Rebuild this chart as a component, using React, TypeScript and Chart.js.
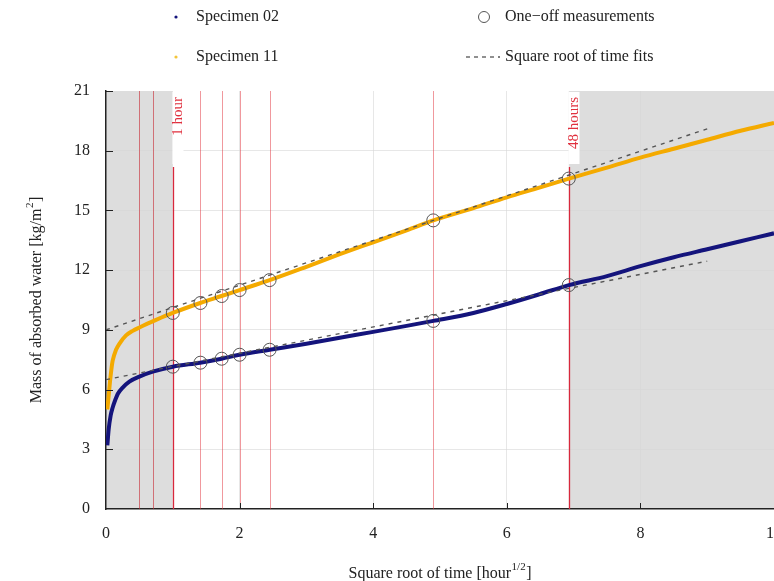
import React, { useEffect, useRef } from "react";
import { Chart, registerables } from "chart.js";

Chart.register(...registerables);

// ---- Data ----
const sqrtTime02 = [0.02, 0.04, 0.07, 0.1, 0.13, 0.18, 0.25, 0.35, 0.5, 0.7, 1.0, 1.41, 1.73, 2.0, 2.45, 3.0, 3.5, 4.0, 4.5, 4.9, 5.5, 6.0, 6.5, 6.93, 7.5, 8.0, 8.5, 9.0, 9.5, 10.0];
const mass02 = [3.2, 4.0, 4.7, 5.1, 5.4, 5.8, 6.1, 6.4, 6.65, 6.9, 7.15, 7.35, 7.55, 7.75, 8.0, 8.3, 8.6, 8.9, 9.2, 9.45, 9.85, 10.3, 10.8, 11.25, 11.7, 12.2, 12.65, 13.05, 13.45, 13.85];

const sqrtTime11 = [0.02, 0.04, 0.06, 0.08, 0.1, 0.15, 0.2, 0.3, 0.4, 0.5, 0.75, 1.0, 1.41, 1.73, 2.0, 2.45, 3.0, 3.5, 4.0, 4.5, 4.9, 5.5, 6.0, 6.5, 6.93, 7.5, 8.0, 8.5, 9.0, 9.5, 10.0];
const mass11 = [5.0, 5.7, 6.4, 7.0, 7.45, 8.0, 8.3, 8.72, 8.95, 9.12, 9.5, 9.85, 10.35, 10.7, 11.0, 11.5, 12.17, 12.8, 13.4, 14.0, 14.5, 15.12, 15.66, 16.16, 16.6, 17.15, 17.65, 18.1, 18.55, 19.0, 19.4];

const oneOffTimes = [1.0, 1.414, 1.732, 2.0, 2.449, 4.899, 6.928];
const oneOff02 = [7.15, 7.35, 7.55, 7.75, 8.0, 9.45, 11.25];
const oneOff11 = [9.85, 10.35, 10.7, 11.0, 11.5, 14.5, 16.6];

const fitTimes = [0, 9.0];
const fit02 = [6.5, 12.45];
const fit11 = [9.0, 19.1];

const markerTimes = [0.5, 0.707, 1.0, 1.414, 1.732, 2.0, 2.449, 4.899, 6.928];
const labelledTimes = [1.0, 6.928];
const labelledTexts = ["1 hour", "48 hours"];
const shadedStarts = [0, 6.928];
const shadedEnds = [1.0, 10];

const xMin = 0, xMax = 10, xStep = 2;
const yMin = 0, yMax = 21, yStep = 3;

const legendNames = ["Specimen 02", "Specimen 11", "One\u2212off measurements", "Square root of time fits"];
const xTitle = ["Square root of time [hour", "1/2", "]"];
const yTitle = ["Mass of absorbed water [kg/m", "2", "]"];

const FONT = '"Liberation Serif", "Times New Roman", serif';
const NAVY = "#14147c";
const GOLD = "#f4aa00";

const zip = (xs: number[], ys: number[]) => xs.map((x, i) => ({ x, y: ys[i] }));

function drawSup(ctx: CanvasRenderingContext2D, parts: string[], size: number) {
  ctx.font = `${size}px ${FONT}`;
  const w0 = ctx.measureText(parts[0]).width;
  const w2 = ctx.measureText(parts[2]).width;
  ctx.font = `${Math.round(size * 0.7)}px ${FONT}`;
  const w1 = ctx.measureText(parts[1]).width;
  const total = w0 + w1 + w2 + 1;
  let x = -total / 2;
  ctx.textAlign = "left";
  ctx.textBaseline = "alphabetic";
  ctx.font = `${size}px ${FONT}`;
  ctx.fillText(parts[0], x, size * 0.35);
  x += w0 + 0.5;
  ctx.font = `${Math.round(size * 0.7)}px ${FONT}`;
  ctx.fillText(parts[1], x, size * 0.35 - size * 0.45);
  x += w1 + 0.5;
  ctx.font = `${size}px ${FONT}`;
  ctx.fillText(parts[2], x, size * 0.35);
}

const decorPlugin = {
  id: "decor",
  beforeDraw(chart: any) {
    const { ctx, chartArea, scales } = chart;
    const xs = scales.x;
    ctx.save();
    ctx.fillStyle = "#dddddd";
    shadedStarts.forEach((s, i) => {
      const a = xs.getPixelForValue(s);
      const b = Math.min(xs.getPixelForValue(shadedEnds[i]), chartArea.right);
      ctx.fillRect(a, chartArea.top, b - a, chartArea.bottom - chartArea.top);
    });
    ctx.restore();
  },
  beforeDatasetsDraw(chart: any) {
    const { ctx, chartArea, scales } = chart;
    const xs = scales.x;
    ctx.save();
    markerTimes.forEach((t) => {
      const px = Math.round(xs.getPixelForValue(t)) + 0.5;
      const li = labelledTimes.indexOf(t);
      let top = chartArea.top;
      if (li >= 0) {
        top = chartArea.top + 76;
        ctx.strokeStyle = "#d8283c";
        ctx.lineWidth = 1.3;
      } else if (t < 1) {
        ctx.strokeStyle = "rgba(200,40,50,0.6)";
        ctx.lineWidth = 1;
      } else {
        ctx.strokeStyle = "rgba(225,50,60,0.5)";
        ctx.lineWidth = 1;
      }
      ctx.beginPath();
      ctx.moveTo(px, top);
      ctx.lineTo(px, chartArea.bottom);
      ctx.stroke();
      if (li >= 0) {
        ctx.fillStyle = "#ffffff";
        ctx.fillRect(px - 1, chartArea.top + 1, 11, 72);
        ctx.save();
        ctx.translate(px + 5, chartArea.top + 6);
        ctx.rotate(-Math.PI / 2);
        ctx.fillStyle = "#e0303e";
        ctx.font = `15px ${FONT}`;
        ctx.textAlign = "right";
        ctx.textBaseline = "middle";
        ctx.fillText(labelledTexts[li], 0, 0);
        ctx.restore();
      }
    });
    ctx.restore();
  },
  afterDraw(chart: any) {
    const { ctx, chartArea, scales } = chart;
    const xs = scales.x, ys = scales.y;
    ctx.save();
    // inward ticks
    ctx.strokeStyle = "#222";
    ctx.lineWidth = 1;
    for (let v = xMin + xStep; v < xMax; v += xStep) {
      const px = Math.round(xs.getPixelForValue(v)) + 0.5;
      ctx.beginPath();
      ctx.moveTo(px, chartArea.bottom);
      ctx.lineTo(px, chartArea.bottom - 6);
      ctx.stroke();
    }
    for (let v = yMin + yStep; v <= yMax; v += yStep) {
      const py = Math.round(ys.getPixelForValue(v)) + 0.5;
      ctx.beginPath();
      ctx.moveTo(chartArea.left, py);
      ctx.lineTo(chartArea.left + 7, py);
      ctx.stroke();
    }
    // legend
    ctx.fillStyle = "#222";
    ctx.font = `16px ${FONT}`;
    ctx.textAlign = "left";
    ctx.textBaseline = "middle";
    ctx.fillText(legendNames[0], 196, 17);
    ctx.fillText(legendNames[1], 196, 57);
    ctx.fillText(legendNames[2], 505, 17);
    ctx.fillText(legendNames[3], 505, 57);
    ctx.fillStyle = NAVY;
    ctx.beginPath();
    ctx.arc(176, 17, 1.6, 0, Math.PI * 2);
    ctx.fill();
    ctx.fillStyle = "#f3c53a";
    ctx.beginPath();
    ctx.arc(176, 57, 1.6, 0, Math.PI * 2);
    ctx.fill();
    ctx.strokeStyle = "#555";
    ctx.lineWidth = 1;
    ctx.beginPath();
    ctx.arc(484, 17, 5.5, 0, Math.PI * 2);
    ctx.stroke();
    ctx.setLineDash([4, 4]);
    ctx.lineWidth = 1.3;
    ctx.beginPath();
    ctx.moveTo(466, 57);
    ctx.lineTo(500, 57);
    ctx.stroke();
    ctx.setLineDash([]);
    // axis titles
    ctx.fillStyle = "#222";
    ctx.save();
    ctx.translate(440, 572);
    drawSup(ctx, xTitle, 16);
    ctx.restore();
    ctx.save();
    ctx.translate(35, 300);
    ctx.rotate(-Math.PI / 2);
    drawSup(ctx, yTitle, 16);
    ctx.restore();
    ctx.restore();
  },
};

export default function App() {
  const ref = useRef<HTMLCanvasElement | null>(null);
  useEffect(() => {
    document.body.style.margin = "0";
    document.body.style.overflow = "hidden";
    const canvas = ref.current;
    if (!canvas) return;
    const chart = new Chart(canvas, {
      type: "scatter",
      data: {
        datasets: [
          {
            label: "One-off 11",
            data: zip(oneOffTimes, oneOff11),
            showLine: false,
            pointStyle: "circle",
            pointRadius: 6.5,
            pointBorderColor: "#555",
            pointBackgroundColor: "rgba(0,0,0,0)",
            pointBorderWidth: 1,
            order: 0,
          },
          {
            label: "One-off 02",
            data: zip(oneOffTimes, oneOff02),
            showLine: false,
            pointStyle: "circle",
            pointRadius: 6.5,
            pointBorderColor: "#555",
            pointBackgroundColor: "rgba(0,0,0,0)",
            pointBorderWidth: 1,
            order: 0,
          },
          {
            label: "Fit 11",
            data: zip(fitTimes, fit11),
            showLine: true,
            borderColor: "#555",
            borderWidth: 1.4,
            borderDash: [4, 5],
            pointRadius: 0,
            order: 1,
          },
          {
            label: "Fit 02",
            data: zip(fitTimes, fit02),
            showLine: true,
            borderColor: "#555",
            borderWidth: 1.4,
            borderDash: [4, 5],
            pointRadius: 0,
            order: 1,
          },
          {
            label: "Specimen 11",
            data: zip(sqrtTime11, mass11),
            showLine: true,
            borderColor: GOLD,
            borderWidth: 4,
            pointRadius: 0,
            cubicInterpolationMode: "monotone",
            order: 2,
          },
          {
            label: "Specimen 02",
            data: zip(sqrtTime02, mass02),
            showLine: true,
            borderColor: NAVY,
            borderWidth: 4,
            pointRadius: 0,
            cubicInterpolationMode: "monotone",
            order: 2,
          },
        ],
      },
      options: {
        animation: false,
        responsive: false,
        events: [],
        layout: { padding: { top: 91, right: 26, bottom: 0, left: 0 } },
        plugins: {
          legend: { display: false },
          tooltip: { enabled: false },
          title: { display: false },
        },
        scales: {
          x: {
            type: "linear",
            min: xMin,
            max: xMax,
            afterFit: (s: any) => {
              s.height = 72;
            },
            ticks: {
              stepSize: xStep,
              padding: 15,
              color: "#222",
              font: { family: FONT, size: 16 },
            },
            grid: {
              drawTicks: false,
              color: (c: any) => (c.tick && (c.tick.value === xMin || c.tick.value === xMax) ? "rgba(0,0,0,0)" : "rgba(215,215,215,0.6)"),
            },
            border: { display: true, color: "#222", width: 1.5 },
          },
          y: {
            type: "linear",
            min: yMin,
            max: yMax,
            afterFit: (s: any) => {
              s.width = 106;
            },
            ticks: {
              stepSize: yStep,
              padding: 16,
              color: "#222",
              font: { family: FONT, size: 16 },
            },
            grid: {
              drawTicks: false,
              color: (c: any) => (c.tick && (c.tick.value === yMin || c.tick.value === yMax) ? "rgba(0,0,0,0)" : "rgba(215,215,215,0.6)"),
            },
            border: { display: true, color: "#222", width: 1.5 },
          },
        },
      } as any,
      plugins: [decorPlugin],
    });
    return () => chart.destroy();
  }, []);
  return (
    <div style={{ position: "fixed", left: 0, top: 0, width: 800, height: 581, background: "#fff" }}>
      <canvas ref={ref} width={800} height={581} style={{ display: "block" }} />
    </div>
  );
}
